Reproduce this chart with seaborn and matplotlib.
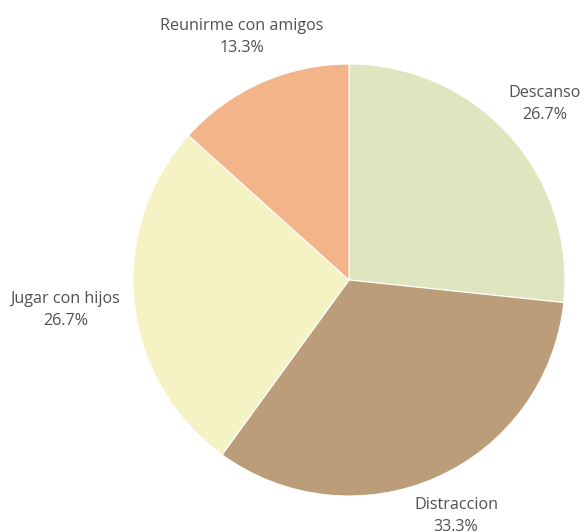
import matplotlib
matplotlib.use("Agg")
import matplotlib.pyplot as plt
import seaborn as sns

categories = ["Descanso", "Distraccion", "Jugar con hijos", "Reunirme con amigos"]
values = [4, 5, 4, 2]
colors = ["#dfe6bf", "#bc9d7a", "#f5f2c4", "#f3b48a"]

sns.set_theme(style="white")
plt.rcParams["font.family"] = ["Open Sans", "DejaVu Sans"]

fig = plt.figure(figsize=(5.86, 5.32), dpi=100)
fig.patch.set_facecolor("white")
ax = fig.add_axes([133 / 586, 36 / 532, 432 / 586, 432 / 532])

total = sum(values)
labels = [f"{c}\n{v / total * 100:.1f}%" for c, v in zip(categories, values)]

wedges, texts = ax.pie(
    values,
    labels=labels,
    colors=colors,
    startangle=90,
    counterclock=False,
    radius=1,
    labeldistance=1.22,
    wedgeprops=dict(edgecolor="white", linewidth=0.8),
    textprops=dict(fontsize=11.6, color="#505050"),
)
for t in texts:
    t.set_ha("center")
    t.set_va("center")
    t.set_multialignment("center")
    t.set_linespacing(1.5)
    t.set_clip_on(False)
# nudge labels slightly to match the reference spacing
x, y = texts[2].get_position()
texts[2].set_position((x - 0.1, y - 0.01))
x, y = texts[1].get_position()
texts[1].set_position((x, y + 0.02))
x, y = texts[3].get_position()
texts[3].set_position((x, y + 0.01))

ax.set_xlim(-1, 1)
ax.set_ylim(-1, 1)
ax.set_aspect("equal")
ax.axis("off")

fig.savefig("out.png", dpi=100)
